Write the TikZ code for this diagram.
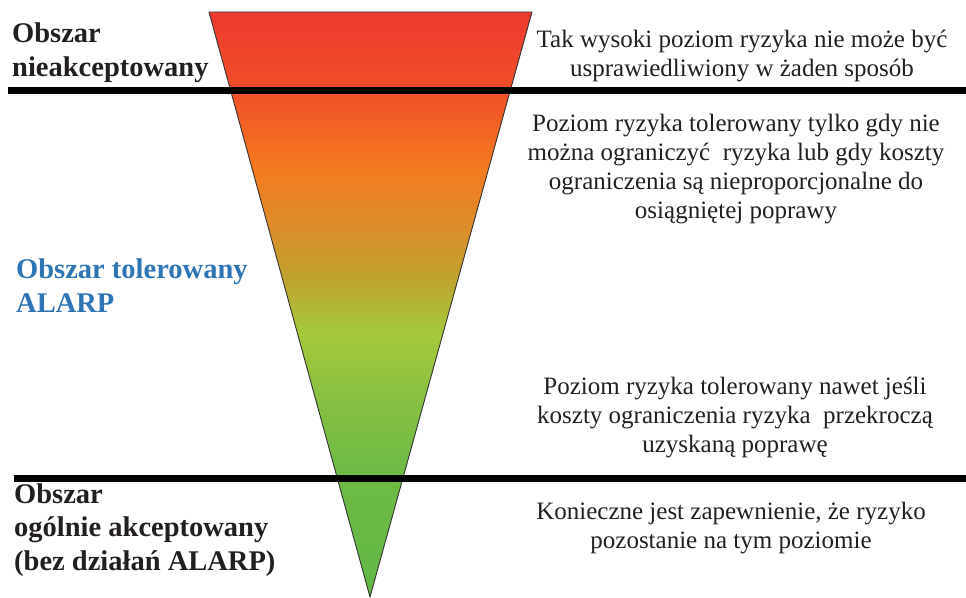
\documentclass[tikz,border=0pt]{standalone}
\usepackage{fontspec}
\setmainfont{Liberation Serif}

% gradient stops of the risk triangle, bottom (green) to top (red)
\definecolor{riskA}{HTML}{63B846}
\definecolor{riskB}{HTML}{6DBB45}
\definecolor{riskC}{HTML}{88C043}
\definecolor{riskD}{HTML}{A5C93B}
\definecolor{riskE}{HTML}{BFA42F}
\definecolor{riskF}{HTML}{DC8C2A}
\definecolor{riskG}{HTML}{F47B20}
\definecolor{riskH}{HTML}{F04F28}
\definecolor{riskI}{HTML}{EE3A2F}
\definecolor{inkgray}{HTML}{231F20}
\definecolor{alarpblue}{HTML}{2E75B6}

\pgfdeclareverticalshading{riskfade}{100bp}{%
  color(0bp)=(riskA); color(25bp)=(riskA); color(35.85bp)=(riskB);
  color(41.85bp)=(riskC); color(47.55bp)=(riskD); color(52.1bp)=(riskE);
  color(56.8bp)=(riskF); color(61.5bp)=(riskG); color(68.35bp)=(riskH);
  color(75bp)=(riskI); color(100bp)=(riskI)}

% multi-line nodes are placed by the baseline of their last line
\tikzset{
  zonetitle/.style={font=\fontsize{28.5}{33.5}\selectfont\bfseries, text=inkgray,
    align=left, anchor=base west, inner sep=0pt},
  zonenote/.style={font=\fontsize{25}{29}\selectfont, text=inkgray,
    align=center, anchor=base, inner sep=0pt},
  divider/.style={line width=7pt, black},
  triedge/.style={draw=black!80, line width=0.9pt, line join=round},
}

\begin{document}
\begin{tikzpicture}[x=1pt, y=-1pt]
  \useasboundingbox (0,0) rectangle (966,597);

  % risk triangle
  \coordinate (tl) at (209,12);
  \coordinate (tr) at (532,12);
  \coordinate (apex) at (370,597);
  \shade[shading=riskfade] (tl) -- (tr) -- (apex) -- cycle;
  \draw[triedge] (tl) -- (tr) -- (apex) -- cycle;

  % zone boundaries
  \coordinate (upL) at (8,90);
  \coordinate (upR) at (966,90);
  \coordinate (loL) at (14,478);
  \coordinate (loR) at (966,478);
  \draw[divider] (upL) -- (upR);
  \draw[divider] (loL) -- (loR);

  % zone names
  \node[zonetitle] (zoneU) at (12,76) {Obszar\\nieakceptowany};
  \node[zonetitle, text=alarpblue] (zoneT) at (16,312) {Obszar tolerowany\\ALARP};
  \node[zonetitle] (zoneA) at (14,570) {Obszar\\ogólnie akceptowany\\(bez działań ALARP)};

  % descriptions
  \node[zonenote] (noteU) at (742,76)
    {Tak wysoki poziom ryzyka nie może być\\usprawiedliwiony w żaden sposób};
  \node[zonenote] (noteT1) at (736,218)
    {Poziom ryzyka tolerowany tylko gdy nie\\można ograniczyć\ \ ryzyka lub gdy koszty\\ograniczenia są nieproporcjonalne do\\osiągniętej poprawy};
  \node[zonenote] (noteT2) at (735,452)
    {Poziom ryzyka tolerowany nawet jeśli\\koszty ograniczenia ryzyka\ \ przekroczą\\uzyskaną poprawę};
  \node[zonenote] (noteA) at (731,548)
    {Konieczne jest zapewnienie, że ryzyko\\pozostanie na tym poziomie};
\end{tikzpicture}
\end{document}
